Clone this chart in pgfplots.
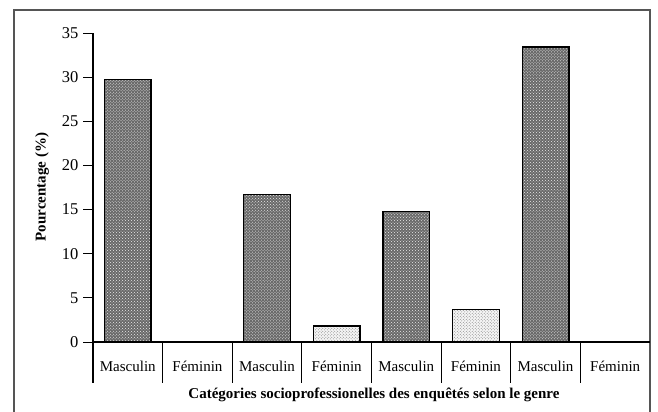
\documentclass[border=0pt]{standalone}
\usepackage{pgfplots}
\pgfplotsset{compat=1.18}
\usetikzlibrary{patterns}
\usepackage{fontspec}
\setmainfont{Liberation Serif}
\definecolor{frame}{RGB}{85,85,85}
\definecolor{mgray}{RGB}{105,105,105}
\begin{document}
\begin{tikzpicture}
\clip (0,0) rectangle (658bp,412bp);
\draw[line width=2bp, color=frame] (14bp,-20bp) -- (14bp,402bp) -- (650bp,402bp) -- (650bp,-20bp);
\begin{axis}[
  at={(93bp,70bp)}, anchor=south west,
  scale only axis, width=557bp, height=309bp,
  xmin=0, xmax=8, ymin=0, ymax=35,
  axis x line=bottom, axis y line=left,
  axis line style={-, line width=1.2bp, black},
  ytick={0,5,...,35},
  tick align=outside,
  major tick length=10bp,
  y tick style={line width=1bp, black},
  xtick={0.5,1.5,...,7.5},
  xticklabels={Masculin,Féminin,Masculin,Féminin,Masculin,Féminin,Masculin,Féminin},
  x tick style={draw=none},
  /pgf/number format/assume math mode=true,
  xticklabel style={font=\fontsize{15bp}{17bp}\selectfont, yshift=-6bp},
  yticklabel style={font=\fontsize{16.5bp}{18bp}\selectfont, xshift=-1bp},
  ybar, bar width=0.67, bar shift=0pt,
  clip=false,
]
\addplot[draw=black, line width=1.3bp, fill=mgray, postaction={pattern=crosshatch dots, pattern color=white!85!gray}]
  coordinates {(0.5,29.7) (2.5,16.7) (4.5,14.8) (6.5,33.4)};
\addplot[draw=black, line width=1.3bp, fill=white!92!gray, postaction={pattern=crosshatch dots, pattern color=gray}]
  coordinates {(1.5,0) (3.5,1.8) (5.5,3.7) (7.5,0)};
\pgfplotsinvokeforeach{0,1,...,7}{
  \draw[line width=1.2bp, black] (axis cs:#1,0) -- ++(0bp,-41bp);
}
\end{axis}
\node[rotate=90, font=\fontsize{15bp}{17bp}\selectfont\bfseries] at (42bp,225bp) {Pourcentage (\%)};
\node[font=\fontsize{15bp}{17bp}\selectfont\bfseries] at (374bp,17bp) {Catégories socioprofessionelles des enquêtés selon le genre};
\end{tikzpicture}
\end{document}
